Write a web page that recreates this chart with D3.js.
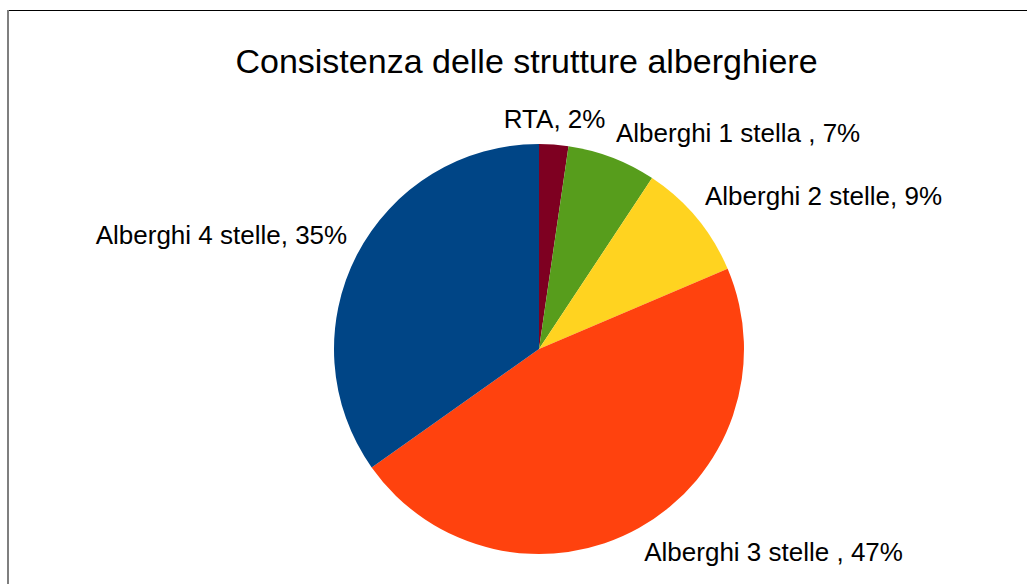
<!DOCTYPE html>
<html>
<head>
<meta charset="utf-8">
<script src="https://cdn.jsdelivr.net/npm/d3@7"></script>
<style>
html, body { margin: 0; padding: 0; background: #fff; }
svg { display: block; }
text { font-family: "Liberation Sans", Arial, sans-serif; fill: #000; white-space: pre; }
</style>
</head>
<body>
<svg id="chart" width="1027" height="584"></svg>
<script>
const title = "Consistenza delle strutture alberghiere";
const categories = ["RTA", "Alberghi 1 stella ", "Alberghi 2 stelle", "Alberghi 3 stelle ", "Alberghi 4 stelle"];
const values = [2.3, 7.0, 9.3, 46.6, 34.8];
const colors = ["#7e0021", "#579d1c", "#ffd320", "#ff420e", "#004586"];

const W = 1027, H = 584;
const cx = 539, cy = 349, R = 205, labelR = 216;
const fs = 26, ascent = 0.905 * fs, descent = 0.212 * fs;

const svg = d3.select("#chart");
svg.append("rect").attr("width", W).attr("height", H).attr("fill", "#fff");

// frame
svg.append("line").attr("x1", 8).attr("x2", W).attr("y1", 10.5).attr("y2", 10.5)
  .attr("stroke", "#000").attr("stroke-width", 1);
svg.append("line").attr("x1", 8).attr("x2", 8).attr("y1", 10).attr("y2", H)
  .attr("stroke", "#7f7f7f").attr("stroke-width", 2);

svg.append("text").attr("x", 526.5).attr("y", 73).attr("text-anchor", "middle")
  .style("font-size", "34px").text(title);

const data = categories.map((c, i) => ({ cat: c, value: values[i], color: colors[i] }));
const total = d3.sum(values);
const pie = d3.pie().sort(null).value(d => d.value);
const arcs = pie(data);
const arc = d3.arc().innerRadius(0).outerRadius(R);

const g = svg.append("g").attr("transform", `translate(${cx},${cy})`);
g.selectAll("path").data(arcs).join("path")
  .attr("d", arc).attr("fill", d => d.data.color);

const fmt = d => Math.round(d.data.value / total * 100) + "%";
g.selectAll("text.lbl").data(arcs).join("text")
  .attr("class", "lbl")
  .style("font-size", fs + "px")
  .each(function(d) {
    const a = (d.startAngle + d.endAngle) / 2;
    const px = labelR * Math.sin(a), py = -labelR * Math.cos(a);
    const s = Math.sin(a), c = Math.cos(a);
    const anchor = Math.abs(s) < 0.2 ? "middle" : (s > 0 ? "start" : "end");
    const y = c > 0 ? py - descent : py + ascent;
    d3.select(this).attr("x", px).attr("y", y).attr("text-anchor", anchor)
      .text(d.data.cat + ", " + fmt(d));
  });
</script>
</body>
</html>
